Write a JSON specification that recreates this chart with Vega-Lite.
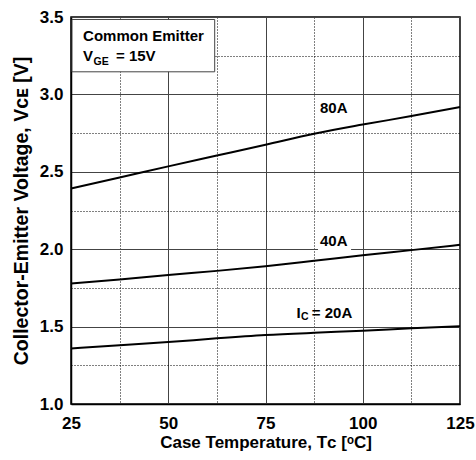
{
  "$schema": "https://vega.github.io/schema/vega-lite/v6.json",
  "width": 389,
  "height": 387,
  "autosize": {"type": "none"},
  "padding": {"left": 71, "top": 17, "right": 16, "bottom": 56},
  "background": "white",
  "config": {
    "font": "Liberation Sans",
    "view": {"stroke": "#000", "strokeWidth": 1.5},
    "axis": {
      "labelFont": "Liberation Sans",
      "labelFontWeight": "bold",
      "labelFontSize": 17,
      "labelColor": "#000",
      "titleFont": "Liberation Sans",
      "titleFontWeight": "bold",
      "titleColor": "#000",
      "ticks": false,
      "domainColor": "#000",
      "domainWidth": 1.5,
      "gridOpacity": 1,
      "gridWidth": 1
    }
  },
  "datasets": {
    "curves": [
      {"I": "80A", "T": 25, "V": 2.392}, {"I": "80A", "T": 37.5, "V": 2.463}, {"I": "80A", "T": 50, "V": 2.535},
      {"I": "80A", "T": 62.5, "V": 2.605}, {"I": "80A", "T": 75, "V": 2.675}, {"I": "80A", "T": 87.5, "V": 2.746},
      {"I": "80A", "T": 100, "V": 2.805}, {"I": "80A", "T": 112.5, "V": 2.86}, {"I": "80A", "T": 125, "V": 2.918},
      {"I": "40A", "T": 25, "V": 1.779}, {"I": "40A", "T": 37.5, "V": 1.805}, {"I": "40A", "T": 50, "V": 1.834},
      {"I": "40A", "T": 62.5, "V": 1.86}, {"I": "40A", "T": 75, "V": 1.89}, {"I": "40A", "T": 87.5, "V": 1.925},
      {"I": "40A", "T": 100, "V": 1.961}, {"I": "40A", "T": 112.5, "V": 1.994}, {"I": "40A", "T": 125, "V": 2.028},
      {"I": "20A", "T": 25, "V": 1.359}, {"I": "20A", "T": 37.5, "V": 1.38}, {"I": "20A", "T": 50, "V": 1.4},
      {"I": "20A", "T": 62.5, "V": 1.424}, {"I": "20A", "T": 75, "V": 1.445}, {"I": "20A", "T": 87.5, "V": 1.46},
      {"I": "20A", "T": 100, "V": 1.473}, {"I": "20A", "T": 112.5, "V": 1.489}, {"I": "20A", "T": 125, "V": 1.503}
    ],
    "legendBox": [{"T": 25.26, "T2": 61.94, "V": 3.484, "V2": 3.146}],
    "labelBg": [{"T": 88.5, "T2": 97, "V": 1.98, "V2": 2.1}],
    "mainText": [
      {"text": "80A", "T": 89.0, "V": 2.878},
      {"text": "40A", "T": 89.0, "V": 2.023},
      {"text": "I", "T": 83.0, "V": 1.557},
      {"text": "= 20A", "T": 86.9, "V": 1.557},
      {"text": "Common Emitter", "T": 28.1, "V": 3.347},
      {"text": "V", "T": 28.1, "V": 3.218},
      {"text": "= 15V", "T": 36.57, "V": 3.218}
    ],
    "subText": [
      {"text": "C", "T": 84.1, "V": 1.542},
      {"text": "GE", "T": 30.8, "V": 3.19}
    ]
  },
  "encoding": {
    "x": {
      "field": "T",
      "type": "quantitative",
      "scale": {"domain": [25, 125], "nice": false, "zero": false},
      "axis": {
        "values": [25, 37.5, 50, 62.5, 75, 87.5, 100, 112.5, 125],
        "format": "d",
        "labelExpr": "datum.value % 25 === 0 ? datum.label : ''",
        "labelPadding": 11,
        "labelFlush": false,
        "labelOverlap": false,
        "grid": true,
        "gridDash": {"condition": {"test": "datum.value % 25 !== 0", "value": [1, 2]}, "value": []},
        "gridColor": {"condition": {"test": "datum.value % 25 !== 0", "value": "#000"}, "value": "#444"},
        "title": "Case Temperature, Tᴄ [ᵒC]",
        "titleFontSize": 17,
        "titlePadding": 3
      }
    },
    "y": {
      "field": "V",
      "type": "quantitative",
      "scale": {"domain": [1, 3.5], "nice": false, "zero": false},
      "axis": {
        "values": [1, 1.25, 1.5, 1.75, 2, 2.25, 2.5, 2.75, 3, 3.25, 3.5],
        "format": ".1f",
        "labelExpr": "datum.value % 0.5 === 0 ? datum.label : ''",
        "labelPadding": 8,
        "labelFlush": false,
        "labelOverlap": false,
        "grid": true,
        "gridDash": {"condition": {"test": "datum.value % 0.5 !== 0", "value": [1, 2]}, "value": []},
        "gridColor": {"condition": {"test": "datum.value % 0.5 !== 0", "value": "#000"}, "value": "#444"},
        "title": "Collector-Emitter Voltage, Vᴄᴇ [V]",
        "titleFontSize": 19.5,
        "titlePadding": 8
      }
    }
  },
  "layer": [
    {
      "data": {"name": "labelBg"},
      "mark": {"type": "rect", "fill": "white", "stroke": null},
      "encoding": {"x2": {"field": "T2"}, "y2": {"field": "V2"}}
    },
    {
      "data": {"name": "legendBox"},
      "mark": {"type": "rect", "fill": "white", "stroke": "#444", "strokeWidth": 1},
      "encoding": {"x2": {"field": "T2"}, "y2": {"field": "V2"}}
    },
    {
      "data": {"name": "curves"},
      "mark": {"type": "line", "color": "#000", "strokeWidth": 2, "interpolate": "monotone"},
      "encoding": {"detail": {"field": "I"}, "order": {"field": "T"}}
    },
    {
      "data": {"name": "mainText"},
      "mark": {"type": "text", "align": "left", "baseline": "alphabetic", "font": "Liberation Sans", "fontWeight": "bold", "fontSize": 15, "color": "#000"},
      "encoding": {"text": {"field": "text"}}
    },
    {
      "data": {"name": "subText"},
      "mark": {"type": "text", "align": "left", "baseline": "alphabetic", "font": "Liberation Sans", "fontWeight": "bold", "fontSize": 10.5, "color": "#000"},
      "encoding": {"text": {"field": "text"}}
    }
  ]
}
